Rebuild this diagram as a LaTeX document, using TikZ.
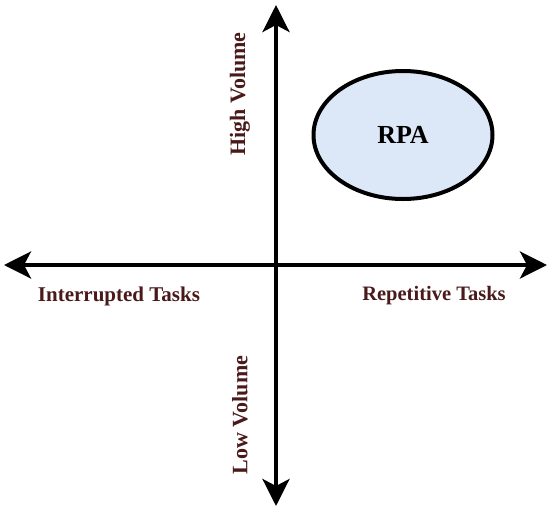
\documentclass[tikz,border=0pt]{standalone}
\usepackage{fontspec}
\setmainfont{Liberation Serif}
\usepackage{tikz}
\usetikzlibrary{arrows.meta,shapes.geometric}
\definecolor{labelred}{HTML}{4A1A1A}
\definecolor{rpablue}{HTML}{DCE7F8}

\begin{document}
\begin{tikzpicture}[x=1pt,y=-1pt]
	\tikzstyle{axis}=[line width=4pt,-{Stealth[length=27pt,width=27pt,inset=7pt]}];
	\tikzstyle{every node}=[font=\fontsize{21}{25}\selectfont\bfseries,text=labelred,inner sep=0pt];
	\tikzstyle{vlabel}=[rotate=90,font=\fontsize{22}{26}\selectfont\bfseries];
	\useasboundingbox (0,0) rectangle (554,512);
	\coordinate (o) at (276,265);
	\coordinate (top) at (276,5);
	\coordinate (bottom) at (276,506);
	\coordinate (left) at (4,265);
	\coordinate (right) at (547,265);
	\draw[axis] (o) -- (top);
	\draw[axis] (o) -- (bottom);
	\draw[axis] (o) -- (left);
	\draw[axis] (o) -- (right);
	\node[draw=black,line width=4pt,fill=rpablue,ellipse,minimum width=179pt,minimum height=128pt,text=black,font=\fontsize{26}{30}\selectfont\bfseries] (rpa) at (403,135) {RPA};
	\node[vlabel] (high) at (240,94) {High Volume};
	\node[vlabel] (low) at (240,415) {Low Volume};
	\node (interrupted) at (119,296) {Interrupted Tasks};
	\node[font=\fontsize{20.5}{25}\selectfont\bfseries] (repetitive) at (434,296) {Repetitive Tasks};
\end{tikzpicture}
\end{document}
